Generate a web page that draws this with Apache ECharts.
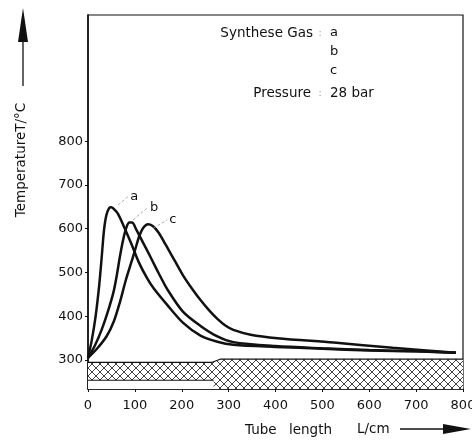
<!DOCTYPE html>
<html>
<head>
<meta charset="utf-8">
<script src="https://cdn.jsdelivr.net/npm/echarts@6/dist/echarts.min.js"></script>
<style>
html,body{margin:0;padding:0;background:#fff;}
#c{width:472px;height:443px;}
</style>
</head>
<body>
<div id="c"></div>
<script>
// ---- data ----
const xTicks = [0, 100, 200, 300, 400, 500, 600, 700, 800];
const yTicks = [300, 400, 500, 600, 700, 800];

const curveA = [[0,305],[8,345],[16,398],[24,472],[29,532],[34,595],[39,630],[45,647],[50,649],[55,645],[64,634],[77,604],[92,567],[109,522],[126,487],[140,464],[169,426],[203,385],[240,356],[276,342],[310,335],[400,330],[500,326],[600,322],[700,320],[785,317]];
const curveB = [[0,305],[15,334],[30,372],[45,420],[55,458],[62,497],[68,536],[75,575],[82,603],[88,614],[94,614],[103,598],[118,567],[133,536],[150,500],[169,462],[203,410],[240,378],[276,354],[310,341],[400,332],[500,327],[600,323],[700,320],[785,317]];
const curveC = [[0,305],[20,327],[40,355],[55,388],[68,432],[80,480],[90,515],[100,550],[110,585],[118,602],[128,610],[138,606],[150,592],[165,565],[185,527],[203,493],[222,463],[240,437],[258,414],[276,394],[293,379],[310,369],[347,358],[404,350],[524,340],[650,328],[785,317]];

// tube wall (hatched band) outline
const bandTop = [[0,295],[265,295],[282,302],[800,302]];
const bandInnerLeft = [[0,254],[268,254]];

// leader lines for curve labels
const leaderA = [[64,654],[86,674]];
const leaderB = [[96,620],[128,649]];
const leaderC = [[139,601],[169,620]];
const curveNames = ['a', 'b', 'c'];

// ---- chart ----
const FONT = "'DejaVu Sans', sans-serif";
const INK = '#111';

function hatch() {
  const c = document.createElement('canvas');
  c.width = 8; c.height = 8;
  const g = c.getContext('2d');
  g.fillStyle = '#fff'; g.fillRect(0, 0, 8, 8);
  g.strokeStyle = '#444'; g.lineWidth = 1;
  g.beginPath();
  g.moveTo(0, 0); g.lineTo(8, 8);
  g.moveTo(8, 0); g.lineTo(0, 8);
  g.stroke();
  return c;
}

const chart = echarts.init(document.getElementById('c'), null, {renderer: 'canvas'});

function curve(data) {
  return {
    type: 'line', data: data, smooth: 0.3, symbol: 'none', z: 5,
    lineStyle: {color: INK, width: 2.5}, silent: true
  };
}
function leader(data, name) {
  return {
    type: 'line', data: data, symbol: 'none', z: 6, silent: true,
    lineStyle: {color: '#999', width: 0.8, type: [3, 2]},
    endLabel: {show: true, formatter: name, distance: 2, color: INK, fontSize: 13, fontFamily: FONT}
  };
}

const option = {
  animation: false,
  backgroundColor: '#fff',
  grid: {left: 88, right: 9, top: 15, bottom: 54, outerBoundsMode: 'none', containLabel: false,
         show: true, borderColor: INK, borderWidth: 1.2, backgroundColor: 'transparent'},
  xAxis: {
    type: 'value', min: 0, max: 800, interval: 100,
    axisLine: {show: true, lineStyle: {color: INK, width: 1.6}},
    axisTick: {show: true, length: 3, lineStyle: {color: INK}},
    axisLabel: {color: INK, fontSize: 13, fontFamily: FONT, margin: 10},
    splitLine: {show: false}
  },
  yAxis: {
    type: 'value', min: 234, max: 1088,
    axisLine: {show: true, lineStyle: {color: INK, width: 1.6}},
    axisTick: {show: true, length: 3, customValues: yTicks, lineStyle: {color: INK}},
    axisLabel: {color: INK, fontSize: 13, fontFamily: FONT, margin: 5, customValues: yTicks},
    splitLine: {show: false}
  },
  series: [
    {
      type: 'line', data: bandTop, symbol: 'none', z: 2, silent: true,
      lineStyle: {color: INK, width: 1.2},
      areaStyle: {color: {image: hatch(), repeat: 'repeat'}, opacity: 1, origin: 'start'}
    },
    {
      type: 'line', data: bandInnerLeft, symbol: 'none', z: 3, silent: true,
      lineStyle: {color: INK, width: 1},
      areaStyle: {color: '#fff', opacity: 1, origin: 'start'}
    },
    curve(curveA), curve(curveB), curve(curveC),
    leader(leaderA, curveNames[0]), leader(leaderB, curveNames[1]), leader(leaderC, curveNames[2])
  ],
  graphic: [
    {type: 'text', x: 313, y: 33, style: {text: 'Synthese Gas', align: 'right', verticalAlign: 'middle', font: '13.5px ' + FONT, fill: INK}},
    {type: 'text', x: 320, y: 33, style: {text: ':', align: 'center', verticalAlign: 'middle', font: '11px ' + FONT, fill: '#aaa'}},
    {type: 'text', x: 330, y: 33, style: {text: curveNames[0], align: 'left', verticalAlign: 'middle', font: '13px ' + FONT, fill: INK}},
    {type: 'text', x: 330, y: 52, style: {text: curveNames[1], align: 'left', verticalAlign: 'middle', font: '13px ' + FONT, fill: INK}},
    {type: 'text', x: 330, y: 71, style: {text: curveNames[2], align: 'left', verticalAlign: 'middle', font: '13px ' + FONT, fill: INK}},
    {type: 'text', x: 311, y: 93, style: {text: 'Pressure', align: 'right', verticalAlign: 'middle', font: '13.5px ' + FONT, fill: INK}},
    {type: 'text', x: 320, y: 93, style: {text: ':', align: 'center', verticalAlign: 'middle', font: '11px ' + FONT, fill: '#aaa'}},
    {type: 'text', x: 330, y: 93, style: {text: '28 bar', align: 'left', verticalAlign: 'middle', font: '13.5px ' + FONT, fill: INK}},
    // y axis title and arrow
    {type: 'text', x: 21, y: 160, rotation: Math.PI / 2, style: {text: 'TemperatureT/°C', align: 'center', verticalAlign: 'middle', font: '13.5px ' + FONT, fill: INK}},
    {type: 'line', shape: {x1: 23, y1: 86, x2: 23, y2: 38}, style: {stroke: INK, lineWidth: 1.3}},
    {type: 'polygon', shape: {points: [[23, 8], [18, 42], [28, 42]]}, style: {fill: INK}},
    // x axis title and arrow
    {type: 'text', x: 245, y: 430, style: {text: 'Tube', align: 'left', verticalAlign: 'middle', font: '13.5px ' + FONT, fill: INK, letterSpacing: 1}},
    {type: 'text', x: 289, y: 430, style: {text: 'length', align: 'left', verticalAlign: 'middle', font: '13.5px ' + FONT, fill: INK, letterSpacing: 1}},
    {type: 'text', x: 357, y: 429, style: {text: 'L/cm', align: 'left', verticalAlign: 'middle', font: '13.5px ' + FONT, fill: INK}},
    {type: 'line', shape: {x1: 400, y1: 429, x2: 446, y2: 429}, style: {stroke: INK, lineWidth: 1.3}},
    {type: 'polygon', shape: {points: [[471, 429], [443, 424], [443, 434]]}, style: {fill: INK}}
  ]
};
chart.setOption(option);
</script>
</body>
</html>
